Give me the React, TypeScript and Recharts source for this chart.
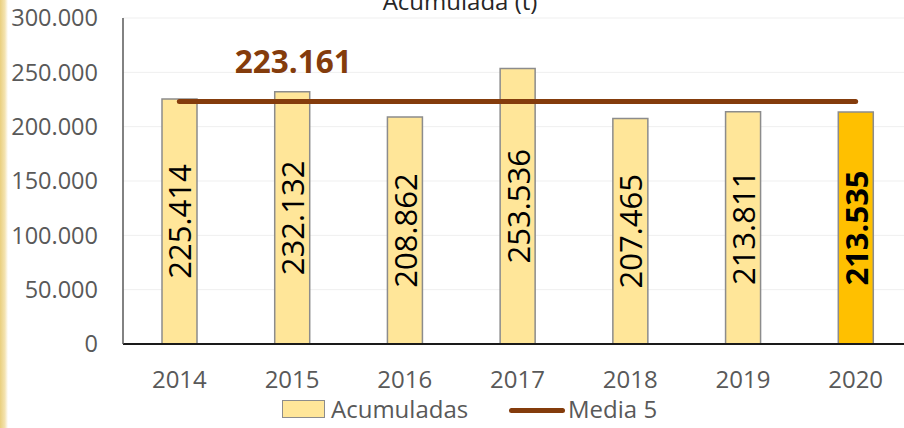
import React from 'react';
import { ComposedChart, Bar, Line, XAxis, YAxis, CartesianGrid, Legend, LabelList, Cell } from 'recharts';

const years = ['2014', '2015', '2016', '2017', '2018', '2019', '2020'];
const acumuladas = [225414, 232132, 208862, 253536, 207465, 213811, 213535];
const media5 = [223161, 223161, 223161, 223161, 223161, 223161, 223161];
const yTicks = [0, 50000, 100000, 150000, 200000, 250000, 300000];
const title = 'Acumulada (t)';

const data = years.map((y, i) => ({ year: y, v: acumuladas[i], m: media5[i] }));

const FONT = '"Open Sans", sans-serif';

function fmt(n: number): string {
  const s = Math.round(n).toString();
  return s.replace(/\B(?=(\d{3})+(?!\d))/g, '.');
}

const BarLabel = (props: any) => {
  const { x, y, width, height, value, index } = props;
  const cx = x + width / 2;
  const cy = y + height / 2;
  return (
    <text
      x={cx}
      y={cy}
      transform={`rotate(-90 ${cx} ${cy})`}
      textAnchor="middle"
      dominantBaseline="central"
      fontFamily={FONT}
      fontSize={31}
      fontWeight={index === 6 ? 700 : 400}
      fill="#000"
    >
      {fmt(value)}
    </text>
  );
};

const MediaLabel = (props: any) => {
  const { x, y, value, index } = props;
  if (index !== 0) return null;
  return (
    <text x={x + 114} y={y - 28} textAnchor="middle" fontFamily={FONT} fontSize={31.5} fontWeight={700} fill="#843C0C">
      {fmt(value)}
    </text>
  );
};

const LegendContent = () => (
  <div style={{ height: 40, position: 'relative', fontFamily: FONT, fontSize: 24, color: '#595959' }}>
    <div style={{ position: 'absolute', left: 282, top: 12, width: 43, height: 18, background: '#FFE699', border: '1.5px solid #8C8C8C', boxSizing: 'border-box' }} />
    <div style={{ position: 'absolute', left: 331, top: 5, lineHeight: '32px' }}>Acumuladas</div>
    <div style={{ position: 'absolute', left: 509, top: 20, width: 56, height: 5, borderRadius: 3, background: '#843C0C' }} />
    <div style={{ position: 'absolute', left: 568, top: 5, lineHeight: '32px' }}>Media 5</div>
  </div>
);

export default function App() {
  return (
    <div style={{ position: 'absolute', left: 0, top: 0, width: 904, height: 428, overflow: 'hidden', background: '#fff' }}>
      <div style={{ position: 'absolute', left: 0, top: 0, width: 8, height: 428, background: 'linear-gradient(90deg, #E9CF7E 0%, #F4E3B0 60%, #FFFFFF 100%)' }} />
      <ComposedChart width={912} height={428} data={data} margin={{ top: 18, right: 0, bottom: 0, left: 0 }}>
        <CartesianGrid vertical={false} stroke="#EFEFEF" />
        <XAxis
          dataKey="year"
          height={44}
          tickSize={0}
          tickMargin={27}
          axisLine={{ stroke: '#1a1a1a', strokeWidth: 2 }}
          tick={{ fill: '#595959', fontSize: 24, fontFamily: FONT }}
        />
        <YAxis
          width={123}
          domain={[0, 300000]}
          ticks={yTicks}
          tickFormatter={fmt}
          tickSize={0}
          tickMargin={25}
          axisLine={{ stroke: '#595959', strokeWidth: 1.5 }}
          tick={{ fill: '#595959', fontSize: 23.5, fontFamily: FONT }}
        />
        <Legend verticalAlign="bottom" content={<LegendContent />} wrapperStyle={{ height: 40 }} />
        <Bar dataKey="v" name="Acumuladas" barSize={35} stroke="#8C8C8C" strokeWidth={1.5} isAnimationActive={false}>
          {data.map((d, i) => (
            <Cell key={d.year} fill={i === 6 ? '#FFC000' : '#FFE699'} />
          ))}
          <LabelList dataKey="v" content={<BarLabel />} />
        </Bar>
        <Line
          dataKey="m"
          name="Media 5"
          type="linear"
          stroke="#843C0C"
          strokeWidth={5}
          strokeLinecap="round"
          dot={false}
          activeDot={false}
          isAnimationActive={false}
        >
          <LabelList dataKey="m" content={<MediaLabel />} />
        </Line>
      </ComposedChart>
      <svg width={904} height={30} style={{ position: 'absolute', left: 0, top: 0, pointerEvents: 'none' }}>
        <text x={460} y={10} textAnchor="middle" fontFamily={FONT} fontSize={24} fill="#262626">
          {title}
        </text>
      </svg>
    </div>
  );
}
